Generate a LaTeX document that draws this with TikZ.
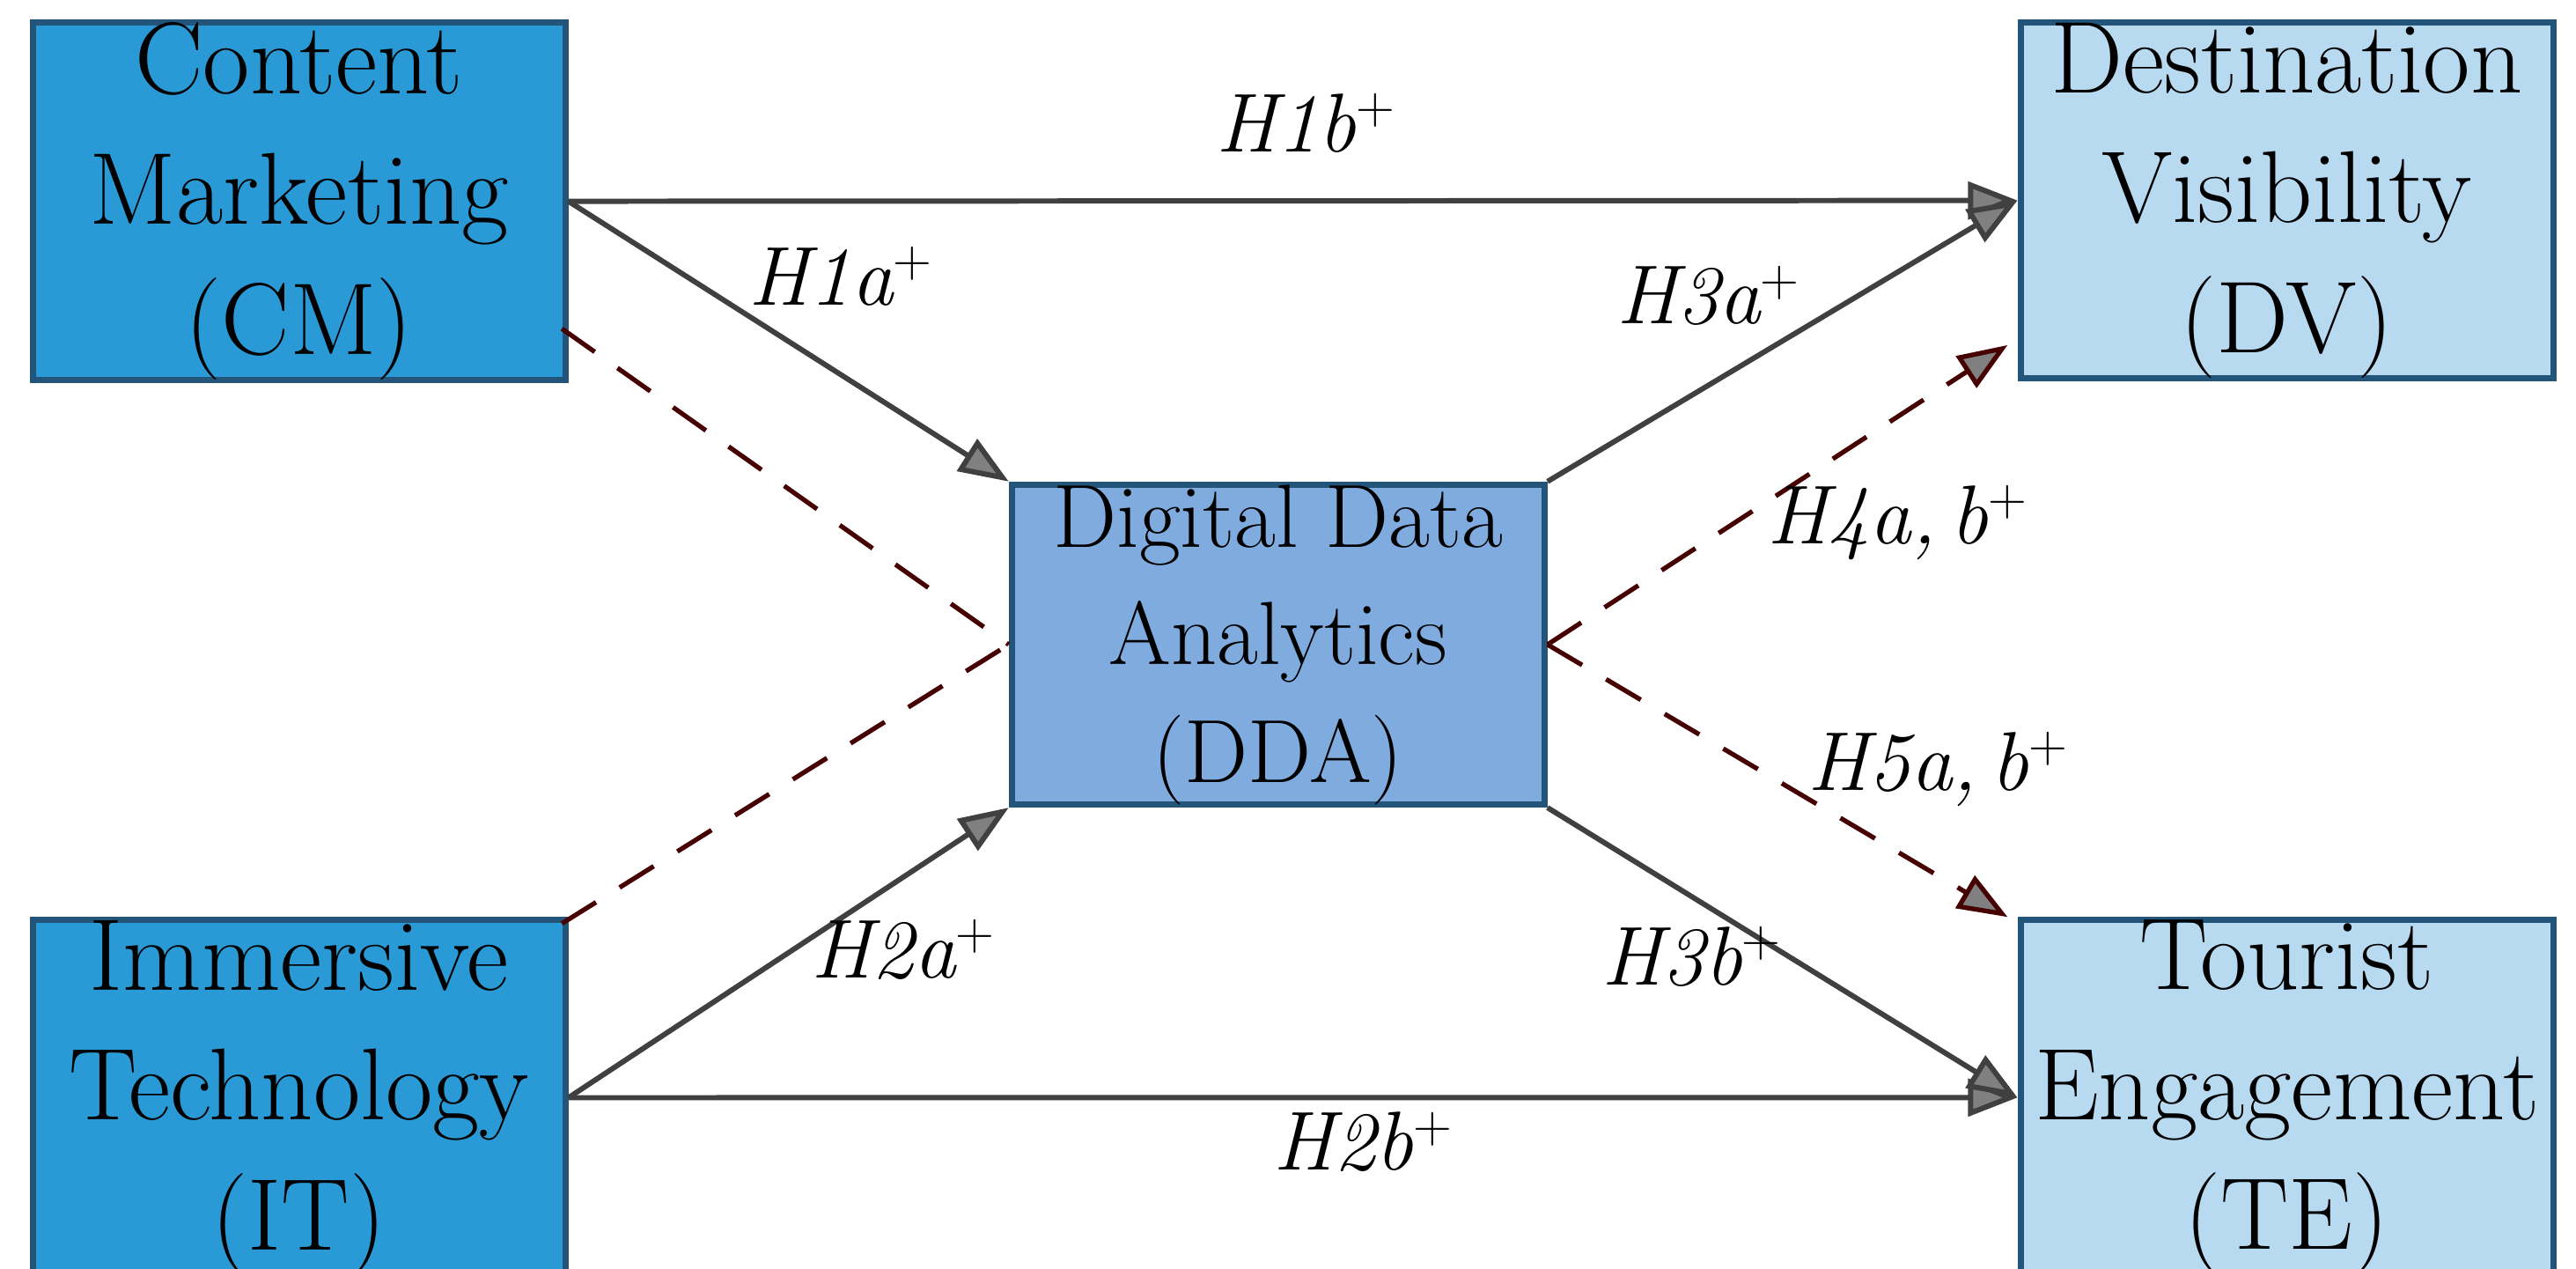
\documentclass[tikz,border=0pt]{standalone}
\usetikzlibrary{arrows.meta}
\definecolor{dark}{HTML}{2A9AD6}
\definecolor{mid}{HTML}{80ABDF}
\definecolor{light}{HTML}{B8DAF1}
\definecolor{edge}{HTML}{23557A}
\begin{document}
\begin{tikzpicture}[x=0.01866cm,y=-0.01866cm,
  box/.style={draw=edge,line width=2pt,minimum width=6.05cm,minimum height=3.68cm,align=center,font=\fontsize{33}{42}\selectfont,anchor=north west,inner sep=0pt},
  tip/.style={-{Triangle[length=16pt,width=12pt,fill=gray]}},
  arr/.style={draw=black!75,line width=1.7pt,tip},
  dsh/.style={draw=black!60!red!70!black,line width=1.5pt,dash pattern=on 13pt off 9pt},
  lab/.style={font=\fontsize{27}{32}\selectfont\itshape}]
\useasboundingbox (0,0) rectangle (1568,772);
\fill[white] (0,0) rectangle (1568,772);
\node[box,fill=dark] (cm) at (18,12) {Content\\Marketing\\(CM)};
\node[box,fill=dark] (it) at (18,558) {Immersive\\Technology\\(IT)};
\node[box,fill=mid,minimum height=3.38cm,font=\fontsize{29}{38}\selectfont] (dda) at (614,293) {Digital Data\\Analytics\\(DDA)};
\node[box,fill=light] (dv) at (1228,12) {Destination\\Visibility\\(DV)};
\node[box,fill=light] (te) at (1228,558) {Tourist\\Engagement\\(TE)};
\coordinate (d1) at (342,200);
\coordinate (d2) at (342,562);
\coordinate (dv0) at (1222,210);
\coordinate (te0) at (1222,558);
\draw[arr] (cm.east) -- (dv.west);
\draw[arr] (cm.east) -- (dda.north west);
\draw[dsh] (d1) -- (dda.west);
\draw[dsh] (d2) -- (dda.west);
\draw[arr] (it.east) -- (dda.south west);
\draw[arr] (it.east) -- (te.west);
\draw[arr] (dda.north east) -- (dv.west);
\draw[arr] (dda.south east) -- (te.west);
\draw[dsh,tip] (dda.east) -- (dv0);
\draw[dsh,tip] (dda.east) -- (te0);
\node[lab] (l1) at (795,75) {H1b$^{+}$};
\node[lab] (l2) at (512,168) {H1a$^{+}$};
\node[lab] (l3) at (550,578) {H2a$^{+}$};
\node[lab] (l4) at (830,695) {H2b$^{+}$};
\node[lab] (l5) at (1040,180) {H3a$^{+}$};
\node[lab] (l6) at (1155,318) {H4a,\,b$^{+}$};
\node[lab] (l7) at (1180,468) {H5a,\,b$^{+}$};
\node[lab] (l8) at (1030,582) {H3b$^{+}$};
\end{tikzpicture}
\end{document}
